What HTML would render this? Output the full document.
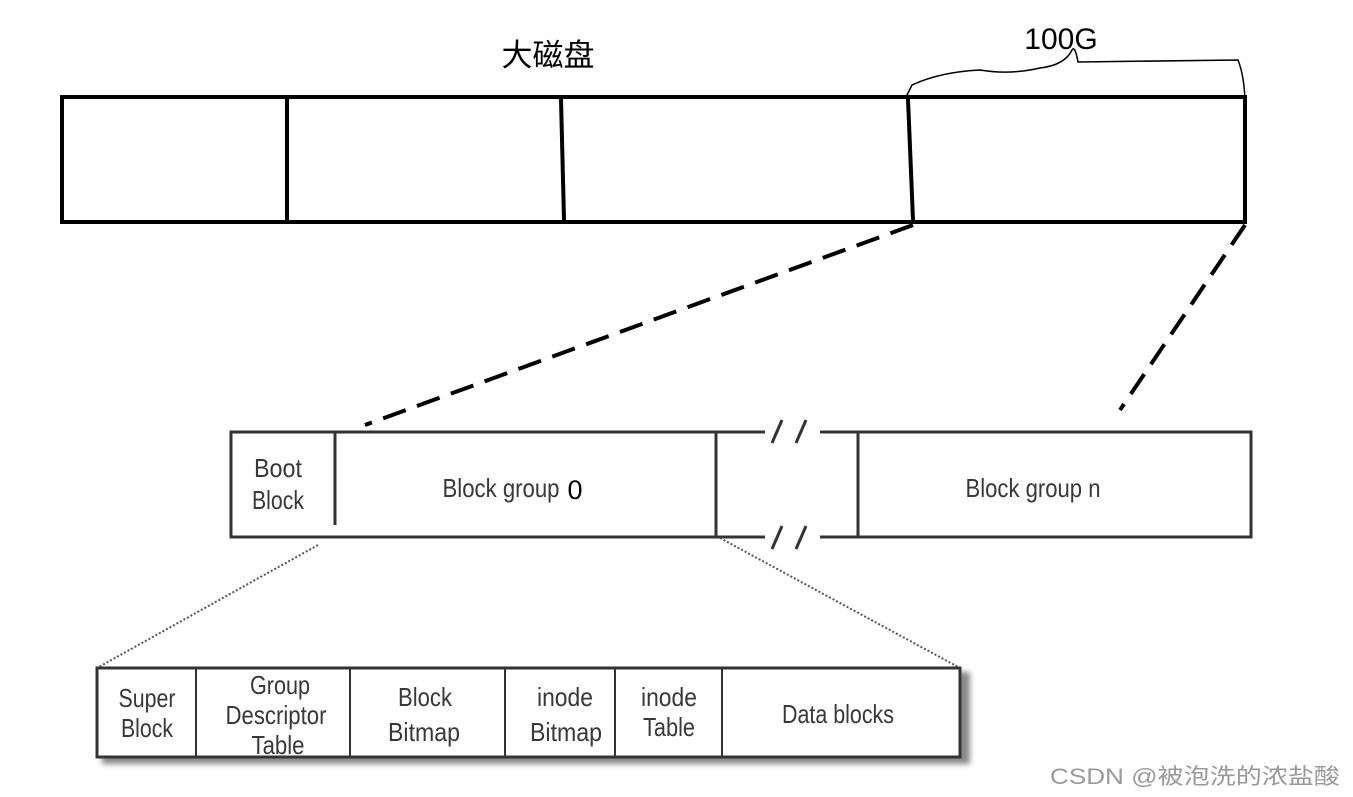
<!DOCTYPE html>
<html><head><meta charset="utf-8"><style>
html,body{margin:0;padding:0;background:#fff;}
svg{display:block}
.c{font-family:"Liberation Sans",sans-serif;fill:#383838;font-size:26px;text-anchor:middle;}
</style></head><body>
<svg width="1353" height="797" viewBox="0 0 1353 797" xmlns="http://www.w3.org/2000/svg">
<defs><filter id="sh" x="-5%" y="-20%" width="110%" height="150%"><feGaussianBlur stdDeviation="3"/></filter></defs>
<text x="548" y="66" font-family="Liberation Sans,'Noto Sans CJK SC',sans-serif" font-size="31" text-anchor="middle" fill="#000">大磁盘</text>
<text x="1061" y="49" font-family="Liberation Sans,sans-serif" font-size="30" text-anchor="middle" fill="#000">100G</text>
<path d="M906 97 L912 85 Q940 72 980 70 Q1010 75 1040 68 Q1065 65 1072 50 Q1075 45 1078 62 L1238 60 Q1244 75 1245 100" fill="none" stroke="#000" stroke-width="1.5"/>
<rect x="62" y="97" width="1183" height="125" fill="none" stroke="#000" stroke-width="4"/>
<line x1="287" y1="99" x2="287" y2="220" stroke="#000" stroke-width="4"/>
<line x1="561" y1="99" x2="564" y2="220" stroke="#000" stroke-width="4"/>
<line x1="908" y1="99" x2="913" y2="220" stroke="#000" stroke-width="4"/>
<line x1="913" y1="225" x2="365" y2="425" stroke="#000" stroke-width="4" stroke-dasharray="24,12"/>
<line x1="1245" y1="225" x2="1120" y2="410" stroke="#000" stroke-width="4" stroke-dasharray="24,12"/>
<rect x="231" y="432" width="1020" height="105" fill="none" stroke="#333" stroke-width="3"/>
<line x1="335" y1="432" x2="335" y2="525" stroke="#333" stroke-width="3"/>
<line x1="716" y1="432" x2="716" y2="537" stroke="#333" stroke-width="3"/>
<line x1="858" y1="432" x2="858" y2="537" stroke="#333" stroke-width="3"/>
<rect x="765" y="425" width="55" height="14" fill="#fff"/>
<rect x="765" y="530" width="55" height="14" fill="#fff"/>
<g stroke="#333" stroke-width="3"><line x1="772" y1="443" x2="782" y2="420"/><line x1="796" y1="443" x2="806" y2="420"/><line x1="772" y1="549" x2="782" y2="526"/><line x1="796" y1="549" x2="806" y2="526"/></g>
<text class="c" x="278" y="477" textLength="48" lengthAdjust="spacingAndGlyphs">Boot</text><text class="c" x="278" y="509" textLength="52" lengthAdjust="spacingAndGlyphs">Block</text>
<text class="c" x="501" y="497" textLength="117" lengthAdjust="spacingAndGlyphs">Block group</text>
<text x="575" y="499" font-family="Liberation Sans,sans-serif" font-size="27" text-anchor="middle" fill="#000">0</text>
<text class="c" x="1033" y="497" textLength="135" lengthAdjust="spacingAndGlyphs">Block group n</text>
<line x1="318" y1="545" x2="97" y2="668" stroke="#555" stroke-width="2" stroke-dasharray="2,2"/>
<line x1="720" y1="538" x2="960" y2="668" stroke="#555" stroke-width="2" stroke-dasharray="2,2"/>
<rect x="102" y="672" width="868" height="92" fill="#888" filter="url(#sh)"/>
<rect x="97" y="668" width="863" height="89" fill="#fff" stroke="#333" stroke-width="3"/>
<g stroke="#333" stroke-width="2"><line x1="196" y1="668" x2="196" y2="757"/><line x1="350" y1="668" x2="350" y2="757"/><line x1="505" y1="668" x2="505" y2="757"/><line x1="615" y1="668" x2="615" y2="757"/><line x1="722" y1="668" x2="722" y2="757"/></g>
<text class="c" x="147" y="707" textLength="57" lengthAdjust="spacingAndGlyphs">Super</text><text class="c" x="147" y="737" textLength="52" lengthAdjust="spacingAndGlyphs">Block</text>
<text class="c" x="280" y="694" textLength="60" lengthAdjust="spacingAndGlyphs">Group</text><text class="c" x="276" y="724" textLength="101" lengthAdjust="spacingAndGlyphs">Descriptor</text><text class="c" x="278" y="754" textLength="53" lengthAdjust="spacingAndGlyphs">Table</text>
<text class="c" x="425" y="706" textLength="54" lengthAdjust="spacingAndGlyphs">Block</text><text class="c" x="424" y="741" textLength="72" lengthAdjust="spacingAndGlyphs">Bitmap</text>
<text class="c" x="565" y="706" textLength="56" lengthAdjust="spacingAndGlyphs">inode</text><text class="c" x="566" y="741" textLength="72" lengthAdjust="spacingAndGlyphs">Bitmap</text>
<text class="c" x="669" y="706" textLength="56" lengthAdjust="spacingAndGlyphs">inode</text><text class="c" x="669" y="736" textLength="52" lengthAdjust="spacingAndGlyphs">Table</text>
<text class="c" x="838" y="723" textLength="112" lengthAdjust="spacingAndGlyphs">Data blocks</text>
<text x="1195" y="784" font-family="Liberation Sans,'Noto Sans CJK SC',sans-serif" font-size="22" text-anchor="middle" fill="#999" textLength="290" lengthAdjust="spacingAndGlyphs">CSDN @被泡洗的浓盐酸</text>
</svg>
</body></html>
